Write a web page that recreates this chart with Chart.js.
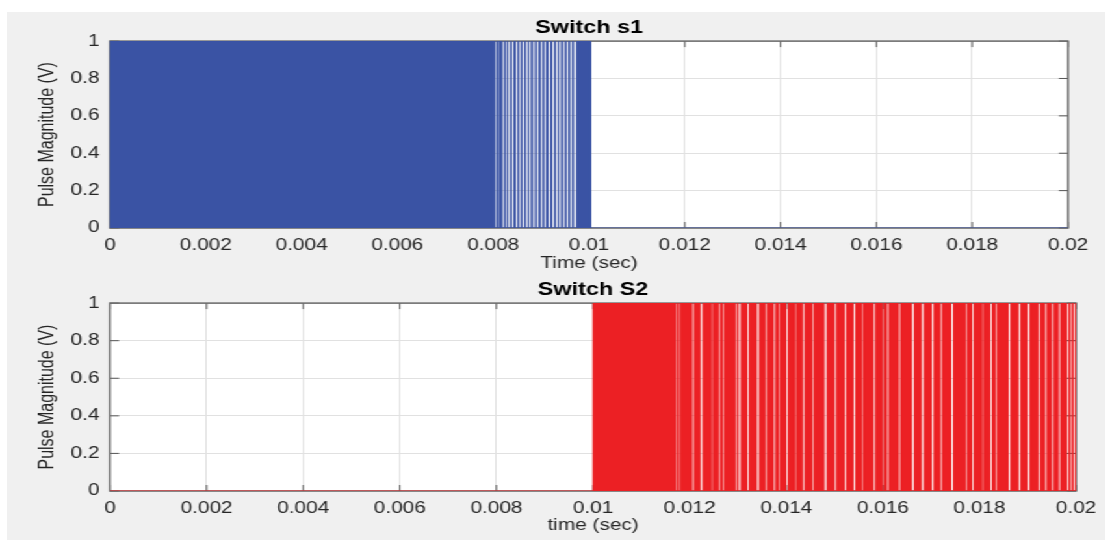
<!DOCTYPE html>
<html>
<head>
<meta charset="utf-8">
<script src="https://cdn.jsdelivr.net/npm/chart.js@4.4.1/dist/chart.umd.min.js"></script>
<style>
  body { margin: 0; background: #fff; }
  #fig { position: absolute; left: 7px; top: 12px; width: 1098px; height: 528px; background: #f0f0f0; }
  #wrap { position: absolute; left: 0; top: 0; width: 854px; height: 540px; transform: scaleX(1.2998); transform-origin: 0 0; }
  canvas { position: absolute; left: 0; }
</style>
</head>
<body>
<div id="fig"></div>
<div id="wrap">
  <canvas id="s1" width="854" height="276" style="top:0"></canvas>
  <canvas id="s2" width="854" height="276" style="top:262px"></canvas>
</div>
<script>
// axis ticks
const xTicks = [0, 0.002, 0.004, 0.006, 0.008, 0.01, 0.012, 0.014, 0.016, 0.018, 0.02];
const xTickLabels = ["0", "0.002", "0.004", "0.006", "0.008", "0.01", "0.012", "0.014", "0.016", "0.018", "0.02"];
const yTicks = [0, 0.2, 0.4, 0.6, 0.8, 1];
const yTickLabels = ["0", "0.2", "0.4", "0.6", "0.8", "1"];

// switch s1: on from start to end, with off gaps (centre time, length) in sec
const s1Start = 0;
const s1End = 0.010035;
const s1GapAt = [0.008058, 0.008121, 0.008211, 0.008267, 0.008336, 0.008407, 0.008491, 0.008559,
  0.008628, 0.008699, 0.008768, 0.008852, 0.008929, 0.009013, 0.009081, 0.009171, 0.009255,
  0.009326, 0.009395, 0.009478, 0.009547, 0.009624, 0.009708];
const s1GapLen = [0.00004, 0.00004, 0.00006, 0.00005, 0.00006, 0.00006, 0.00006, 0.00006,
  0.00006, 0.00006, 0.00006, 0.00006, 0.00006, 0.00006, 0.00006, 0.00006, 0.00006,
  0.00006, 0.00006, 0.00006, 0.00006, 0.00006, 0.00007];

// switch S2
const s2Start = 0.01;
const s2End = 0.02;
const s2GapAt = [0.011737, 0.011793, 0.012068, 0.012248, 0.012469, 0.012620, 0.012703, 0.012965,
  0.013034, 0.013206, 0.013413, 0.013587, 0.013758, 0.013862, 0.014013, 0.014193, 0.014358,
  0.014550, 0.014813, 0.015020, 0.015227, 0.015413, 0.015585, 0.015827, 0.015999, 0.016102,
  0.016344, 0.016620, 0.016826, 0.017033, 0.017207, 0.017434, 0.017724, 0.017860, 0.018067,
  0.018241, 0.018345, 0.018620, 0.018827, 0.019020, 0.019241, 0.019379, 0.019516, 0.019655,
  0.019827, 0.019896, 0.019965];
const s2GapLen = [0.00004, 0.00004, 0.00005, 0.00006, 0.00004, 0.00004, 0.00004, 0.00004,
  0.00006, 0.00005, 0.00006, 0.00004, 0.00005, 0.00004, 0.00005, 0.00004, 0.00005,
  0.00004, 0.00006, 0.00005, 0.00005, 0.00006, 0.00004, 0.00005, 0.00004, 0.00005,
  0.00005, 0.00006, 0.00006, 0.00006, 0.00005, 0.00006, 0.00004, 0.00005, 0.00004,
  0.00005, 0.00004, 0.00006, 0.00006, 0.00006, 0.00005, 0.00005, 0.00005, 0.00005,
  0.00005, 0.00005, 0.00005];

function pulseTrain(start, end, gapAt, gapLen) {
    const pts = [{x: 0, y: 0}, {x: start, y: 1}];
    gapAt.forEach((t, i) => {
        pts.push({x: t - gapLen[i] / 2, y: 0});
        pts.push({x: t + gapLen[i] / 2, y: 1});
    });
    pts.push({x: end, y: 0}, {x: 0.02, y: 0});
    return pts;
}

const font = "'Liberation Sans', Arial, sans-serif";
const textColor = "#262626";
Chart.defaults.font.family = font;
Chart.defaults.font.size = 16;
Chart.defaults.color = textColor;

// matlab style axes: white plot area, box, inward ticks
const boxTicks = {
    id: "boxTicks",
    beforeDraw(chart) {
        const {ctx, chartArea: a} = chart;
        ctx.save();
        ctx.fillStyle = "#fff";
        ctx.fillRect(a.left, a.top, a.width, a.height);
        ctx.restore();
    },
    beforeDatasetsDraw(chart) {
        const {ctx, chartArea: a, scales: {x, y}} = chart;
        ctx.save();
        ctx.strokeStyle = "#555";
        ctx.lineWidth = 1;
        ctx.beginPath();
        x.ticks.forEach(t => {
            const px = x.getPixelForValue(t.value);
            ctx.moveTo(px, a.bottom); ctx.lineTo(px, a.bottom - 6);
            ctx.moveTo(px, a.top); ctx.lineTo(px, a.top + 6);
        });
        y.ticks.forEach(t => {
            const py = y.getPixelForValue(t.value);
            ctx.moveTo(a.left, py); ctx.lineTo(a.left + 7, py);
            ctx.moveTo(a.right, py); ctx.lineTo(a.right - 7, py);
        });
        ctx.stroke();
        ctx.strokeStyle = "#6a6a6a";
        ctx.lineWidth = 1.5;
        ctx.strokeRect(a.left, a.top, a.width, a.height);
        ctx.restore();
    }
};

function makeChart(id, title, xLabel, points, color, padRight, xHeight) {
    return new Chart(document.getElementById(id).getContext("2d"), {
        type: "line",
        data: {
            datasets: [{
                data: points,
                stepped: true,
                fill: "origin",
                borderColor: color,
                backgroundColor: color,
                borderWidth: 1,
                pointRadius: 0
            }]
        },
        options: {
            responsive: false,
            animation: false,
            layout: { padding: { top: 17.5, left: 0, right: padRight, bottom: 0 } },
            plugins: {
                legend: { display: false },
                tooltip: { enabled: false },
                title: {
                    display: true,
                    text: title,
                    fullSize: false,
                    color: "#000",
                    font: { family: font, size: 18, weight: "bold" },
                    padding: { top: 0, bottom: 2 }
                }
            },
            scales: {
                x: {
                    type: "linear",
                    min: 0,
                    max: 0.02,
                    afterBuildTicks: scale => { scale.ticks = xTicks.map(v => ({ value: v })); },
                    afterFit: scale => { scale.height = xHeight; },
                    ticks: {
                        autoSkip: false,
                        maxRotation: 0,
                        padding: 7.5,
                        color: textColor,
                        font: { family: font, size: 16 },
                        callback: (value, index) => xTickLabels[index]
                    },
                    grid: { color: "#e1e1e1", drawTicks: false },
                    border: { display: false },
                    title: {
                        display: true,
                        text: xLabel,
                        color: textColor,
                        font: { family: font, size: 16 },
                        padding: { top: 0, bottom: 3 }
                    }
                },
                y: {
                    min: 0,
                    max: 1,
                    afterBuildTicks: scale => { scale.ticks = yTicks.map(v => ({ value: v })); },
                    afterFit: scale => { scale.width = 84.6; },
                    ticks: {
                        padding: 8,
                        color: textColor,
                        font: { family: font, size: 16 },
                        callback: (value, index) => yTickLabels[index]
                    },
                    grid: { color: "#e1e1e1", drawTicks: false },
                    border: { display: false },
                    title: {
                        display: true,
                        text: "Pulse Magnitude (V)",
                        color: textColor,
                        font: { family: font, size: 16 },
                        padding: { top: 27.3, bottom: 0 }
                    }
                }
            }
        },
        plugins: [boxTicks]
    });
}

makeChart("s1", "Switch s1", "Time (sec)", pulseTrain(s1Start, s1End, s1GapAt, s1GapLen), "#3a53a4", 32.3, 48);
makeChart("s2", "Switch S2", "time (sec)", pulseTrain(s2Start, s2End, s2GapAt, s2GapLen), "#ec2024", 26.1, 47);
</script>
</body>
</html>
